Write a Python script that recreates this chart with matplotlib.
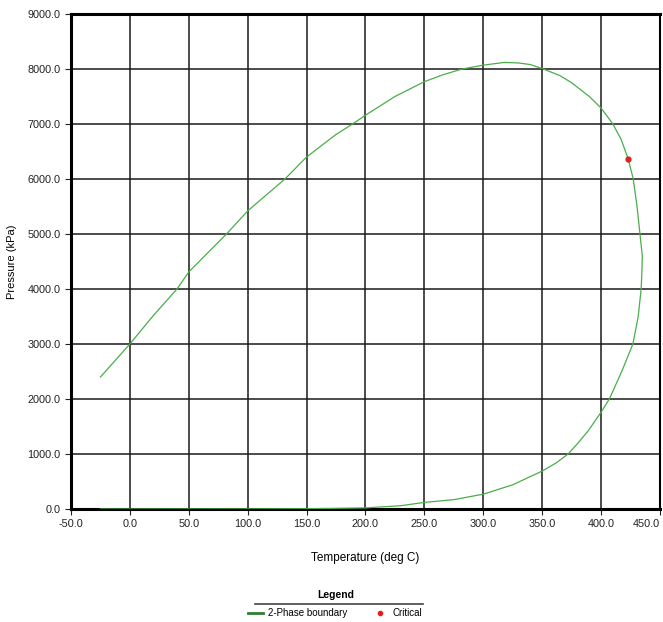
import matplotlib.pyplot as plt
import numpy as np
from matplotlib.lines import Line2D

plt.rcParams['font.family'] = ['Liberation Sans', 'DejaVu Sans']

# phase envelope (deg C, kPa)
temperature = [-25, 0, 20, 40, 50, 82, 100, 131.6, 150, 175, 189, 200, 225, 250, 265, 282, 300,
               318, 330, 340, 351, 365, 375, 390, 400, 410, 417, 423, 427.3, 430.5, 433, 435,
               434.6, 434, 431.5, 427, 417.5, 407, 400, 389, 380, 372, 362, 350, 325, 300, 275,
               250, 230, 200, 150, 100, 50, 0, -25]
pressure = [2400, 3000, 3520, 4000, 4310, 5000, 5420, 6000, 6400, 6810, 7000, 7160, 7500, 7770,
            7890, 8000, 8070, 8120, 8110, 8080, 8000, 7880, 7750, 7500, 7290, 7000, 6720, 6364,
            6000, 5500, 5000, 4600, 4300, 4000, 3500, 3000, 2500, 2000, 1760, 1420, 1190, 1000,
            840, 690, 440, 270, 170, 120, 60, 20, 5, 2, 1, 0, 0]
critical_t = [423]
critical_p = [6364]

x_ticks = np.arange(-50, 451, 50)
y_ticks = np.arange(0, 9001, 1000)

fig = plt.figure(figsize=(6.63, 6.22), dpi=100)
ax = fig.add_axes([71 / 663, 1 - 509 / 622, 589 / 663, 495 / 622])

ax.plot(temperature, pressure, color='#4aad4a', lw=0.9, zorder=3)
ax.plot(critical_t, critical_p, 'o', color='#e02020', ms=3.5, zorder=4)

ax.set_xlim(-50, 450)
ax.set_ylim(0, 9000)
ax.set_xticks(x_ticks)
ax.set_yticks(y_ticks)
ax.set_xticklabels(['%.1f' % v for v in x_ticks])
ax.set_yticklabels(['%.1f' % v for v in y_ticks])
ax.tick_params(labelsize=7.8, length=4, width=0.8, colors='#222222')
ax.get_xticklabels()[-1].set_horizontalalignment('right')
ax.grid(True, color='#1a1a1a', lw=1.1)

for s in ['left', 'bottom', 'top']:
    ax.spines[s].set_linewidth(2.2)
ax.spines['right'].set_linewidth(1.5)

ax.set_xlabel('Temperature (deg C)', fontsize=8.5, labelpad=16)
ax.set_ylabel('Pressure (kPa)', fontsize=8)
ax.yaxis.set_label_coords(-0.092, 0.5)

# legend under the plot
fig.text(0.507, 1 - 595 / 622, 'Legend', ha='center', va='center', fontsize=7.5, fontweight='bold')
fig.add_artist(Line2D([255 / 663, 423 / 663], [1 - 604 / 622, 1 - 604 / 622], color='#444444', lw=1.2))
handles = [Line2D([], [], color='#2e7d32', lw=2),
           Line2D([], [], marker='o', ls='', color='#e02020', ms=3)]
fig.legend(handles, ['2-Phase boundary', 'Critical'], ncol=2, frameon=False, fontsize=7,
           loc='center', bbox_to_anchor=(0.505, 1 - 613 / 622), handlelength=1.6,
           columnspacing=2.5, handletextpad=0.5, borderpad=0.1)

fig.savefig('out.png', dpi=100)
